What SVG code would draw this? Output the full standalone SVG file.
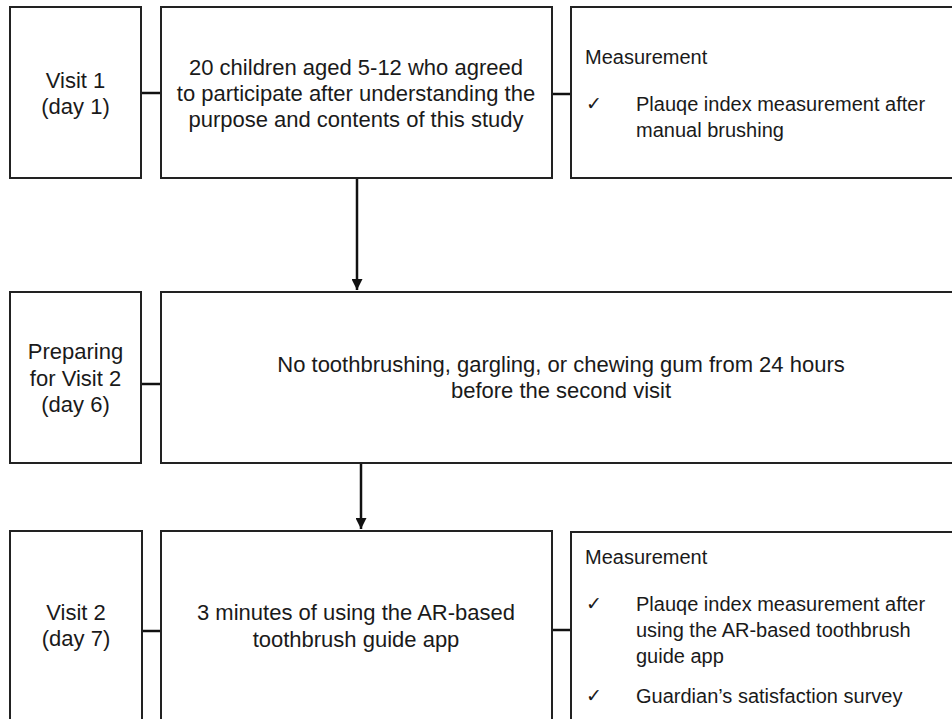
<svg xmlns="http://www.w3.org/2000/svg" width="952" height="719" viewBox="0 0 952 719">
<defs>
<marker id="arr" viewBox="0 0 10 10" refX="10" refY="5" markerWidth="11" markerHeight="11" markerUnits="userSpaceOnUse" orient="auto">
<path d="M0,0 L10,5 L0,10 Z" fill="#111"/>
</marker>
</defs>
<style>
.box{fill:#fff;stroke:#222;stroke-width:2}
.t{font-family:"Liberation Sans",Arial,sans-serif;font-size:22px;fill:#1a1a1a;text-anchor:middle}
.r{font-family:"Liberation Sans",Arial,sans-serif;font-size:20px;fill:#1a1a1a}
.ck{font-family:"DejaVu Sans",sans-serif;font-size:19px;fill:#1a1a1a}
.ln{stroke:#111;stroke-width:2.5;fill:none}
</style>
<rect width="952" height="719" fill="#fff"/>
<g id="connectors">
<line class="ln" x1="141" y1="93" x2="161" y2="93"/>
<line class="ln" x1="552" y1="94" x2="571" y2="94"/>
<line class="ln" x1="357" y1="179" x2="357" y2="290" marker-end="url(#arr)"/>
<line class="ln" x1="141" y1="384" x2="161" y2="384"/>
<line class="ln" x1="361" y1="463" x2="361" y2="529" marker-end="url(#arr)"/>
<line class="ln" x1="142" y1="631" x2="161" y2="631"/>
<line class="ln" x1="552" y1="630" x2="571" y2="630"/>
</g>
<g id="visit1">
<rect class="box" x="10" y="7" width="131" height="171"/>
<text class="t" x="75.5" y="88">Visit 1</text>
<text class="t" x="75.5" y="114">(day 1)</text>
</g>
<g id="children">
<rect class="box" x="161" y="7" width="391" height="171"/>
<text class="t" x="356" y="75">20 children aged 5-12 who agreed</text>
<text class="t" x="356" y="101">to participate after understanding the</text>
<text class="t" x="356" y="127">purpose and contents of this study</text>
</g>
<g id="measure1">
<rect class="box" x="571" y="7" width="420" height="171"/>
<text class="r" x="585" y="64">Measurement</text>
<text class="ck" x="586" y="110">✓</text>
<text class="r" x="636" y="111">Plauqe index measurement after</text>
<text class="r" x="636" y="137">manual brushing</text>
</g>
<g id="prep">
<rect class="box" x="10" y="292" width="131" height="171"/>
<text class="t" x="75.5" y="359">Preparing</text>
<text class="t" x="75.5" y="386">for Visit 2</text>
<text class="t" x="75.5" y="412">(day 6)</text>
</g>
<g id="notooth">
<rect class="box" x="161" y="292" width="830" height="171"/>
<text class="t" x="561" y="372">No toothbrushing, gargling, or chewing gum from 24 hours</text>
<text class="t" x="561" y="398">before the second visit</text>
</g>
<g id="visit2">
<rect class="box" x="10" y="531" width="132" height="220"/>
<text class="t" x="76" y="620">Visit 2</text>
<text class="t" x="76" y="646">(day 7)</text>
</g>
<g id="app">
<rect class="box" x="161" y="531" width="391" height="220"/>
<text class="t" x="356" y="620">3 minutes of using the AR-based</text>
<text class="t" x="356" y="647">toothbrush guide app</text>
</g>
<g id="measure2">
<rect class="box" x="571" y="532" width="420" height="220"/>
<text class="r" x="585" y="564">Measurement</text>
<text class="ck" x="586" y="610">✓</text>
<text class="r" x="636" y="611">Plauqe index measurement after</text>
<text class="r" x="636" y="637">using the AR-based toothbrush</text>
<text class="r" x="636" y="663">guide app</text>
<text class="ck" x="586" y="702">✓</text>
<text class="r" x="636" y="703">Guardian’s satisfaction survey</text>
</g>
</svg>
